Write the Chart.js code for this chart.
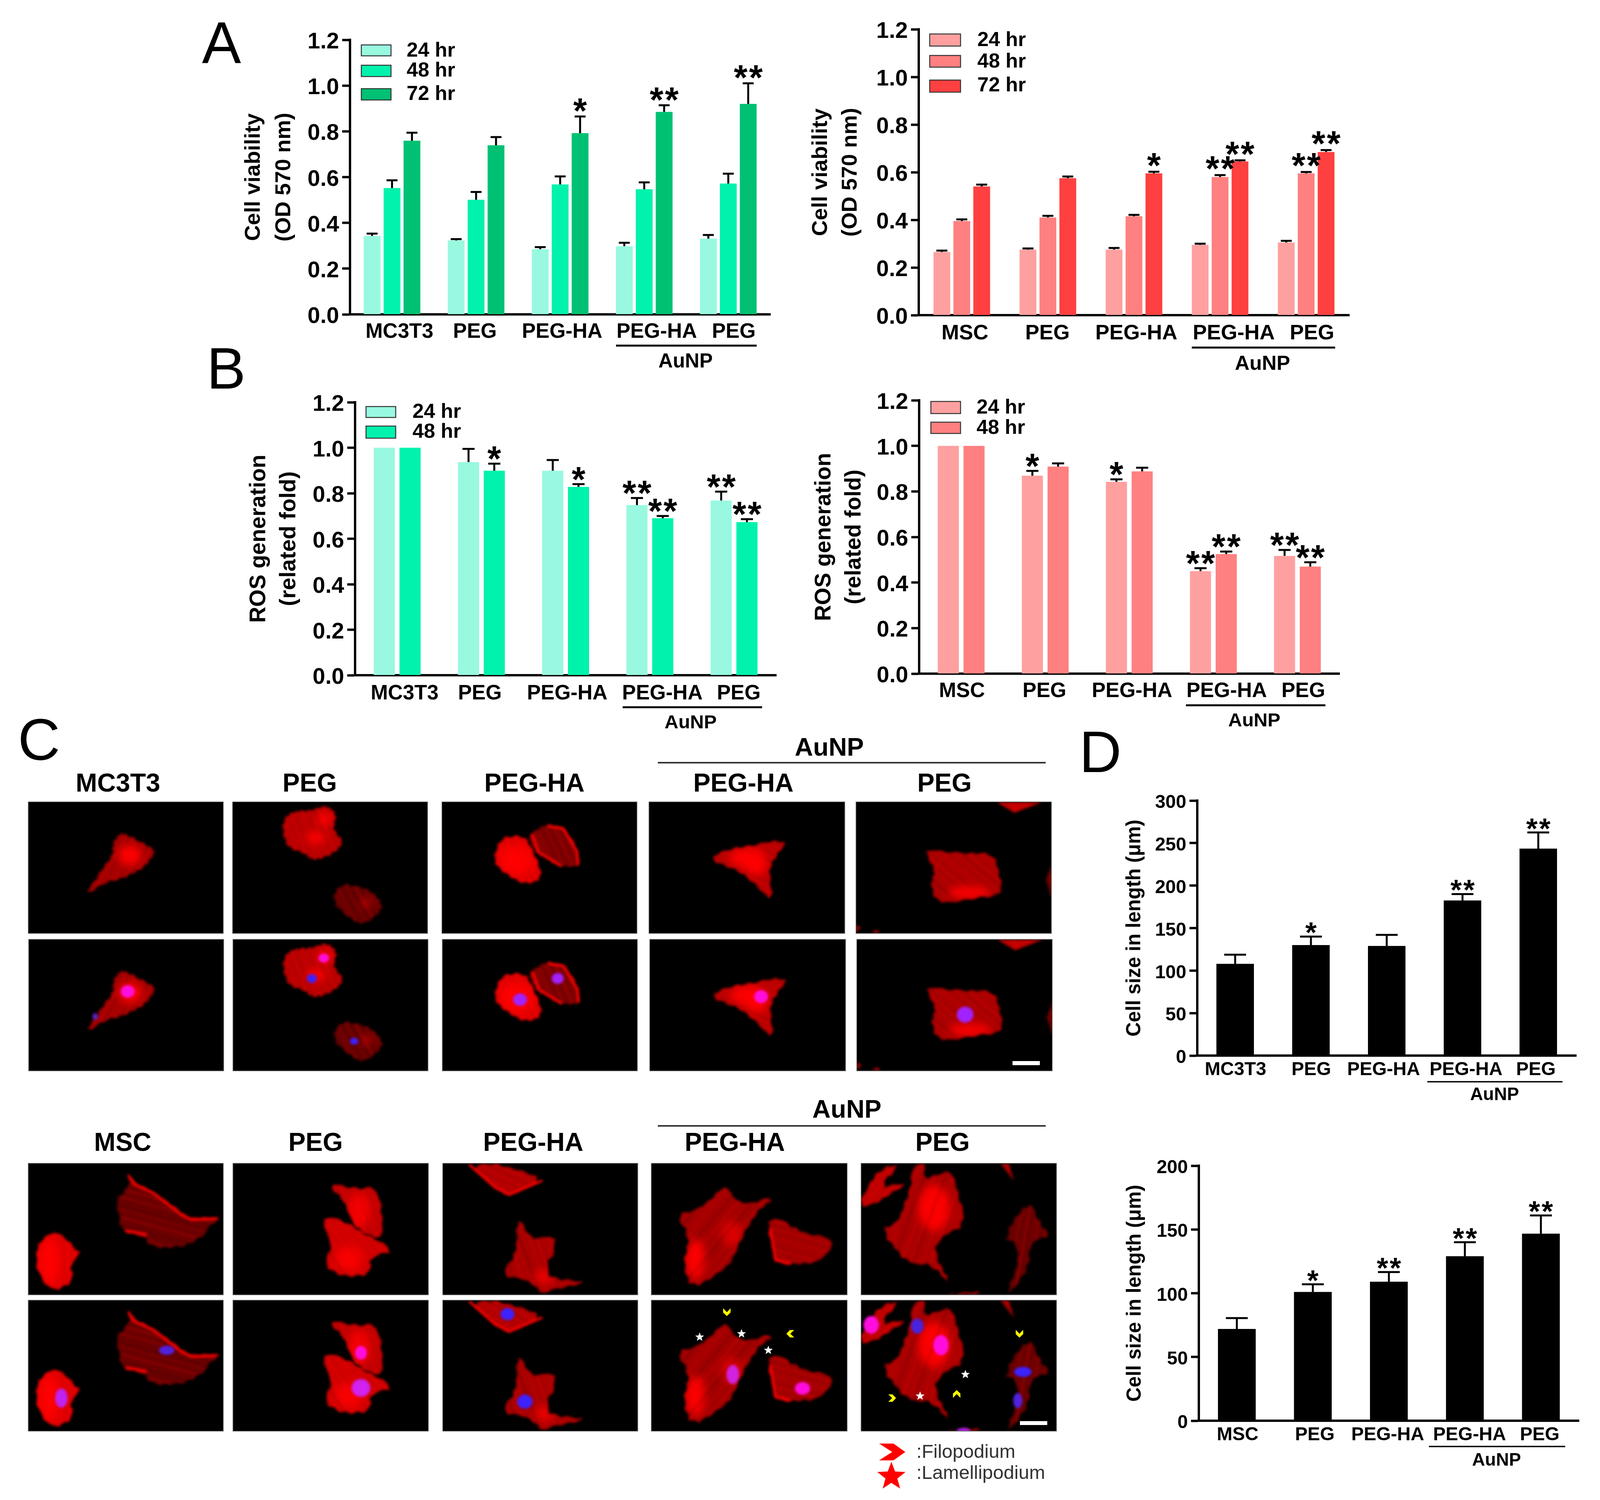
<!DOCTYPE html>
<html><head><meta charset="utf-8">
<style>
html,body{margin:0;padding:0;background:#fff;width:4097px;height:3841px;overflow:hidden}
canvas{position:absolute;display:block}
svg{position:absolute;left:0;top:0}
</style>
<script src="https://cdn.jsdelivr.net/npm/chart.js@4/dist/chart.umd.min.js"></script>
</head><body>
<svg id="ov" width="4097" height="3841" xmlns="http://www.w3.org/2000/svg"></svg>
<script>
const FONT='"Liberation Sans", Arial, sans-serif';
const mc3t3Labels=['MC3T3','PEG','PEG-HA','PEG-HA','PEG'];
const mscLabels=['MSC','PEG','PEG-HA','PEG-HA','PEG'];
const greens=['#98f9e0','#00f2ac','#00c173'];
const reds=['#ffa0a0','#ff8080','#ff4040'];

const viabMc24=[.343,.323,.285,.298,.331], viabMc24Err=[.010,.006,.009,.015,.016];
const viabMc48=[.552,.501,.568,.547,.572], viabMc48Err=[.034,.034,.035,.030,.043];
const viabMc72=[.759,.739,.792,.885,.920], viabMc72Err=[.035,.036,.073,.029,.090];
const viabMc72Stars=['','','*','**','**'];

const viabMs24=[.265,.275,.275,.295,.305], viabMs24Err=[.006,.005,.007,.005,.007];
const viabMs48=[.395,.410,.415,.580,.595], viabMs48Err=[.007,.007,.006,.008,.006];
const viabMs72=[.540,.575,.595,.645,.685], viabMs72Err=[.008,.007,.007,.005,.008];
const viabMs48Stars=['','','','**','**'], viabMs72Stars=['','','*','**','**'];

const rosMc24=[1,.937,.899,.748,.768], rosMc24Err=[0,.058,.047,.031,.039];
const rosMc48=[1,.899,.828,.690,.673], rosMc48Err=[0,.031,.012,.010,.013];
const rosMc24Stars=['','','','**','**'], rosMc48Stars=['','*','*','**','**'];

const rosMs24=[1,.869,.842,.450,.517], rosMs24Err=[0,.021,.011,.013,.026];
const rosMs48=[1,.909,.888,.525,.470], rosMs48Err=[0,.014,.016,.011,.019];
const rosMs24Stars=['','*','*','**','**'], rosMs48Stars=['','','','**','**'];

const sizeMc=[108,130,129,182.5,243.5], sizeMcErr=[10.7,10,13,7.5,19], sizeMcStars=['','*','','**','**'];
const sizeMs=[72,101,109,129,146.7], sizeMsErr=[8.5,6,7.6,11,14.3], sizeMsStars=['','*','**','**','**'];

const errorBars={id:'errorBars',afterDatasetsDraw(chart){
  const ctx=chart.ctx, y=chart.scales.y, o=chart.options.plugins.errorBars;
  chart.data.datasets.forEach((ds,i)=>{
    chart.getDatasetMeta(i).data.forEach((el,j)=>{
      const v=ds.data[j], e=(ds.err||[])[j]||0, top=y.getPixelForValue(v+e);
      ctx.save();ctx.strokeStyle='#000';ctx.fillStyle='#000';
      if(e>0){
        ctx.lineWidth=5;ctx.beginPath();ctx.moveTo(el.x,y.getPixelForValue(v));ctx.lineTo(el.x,top);ctx.stroke();
        ctx.fillRect(el.x-o.cap/2,top-2.5,o.cap,5);
      }
      const s=(ds.stars||[])[j];
      if(s){
        ctx.font='bold '+o.star+'px '+FONT;ctx.textAlign='center';ctx.textBaseline='alphabetic';
        const base=top-o.gap-ctx.measureText('*').actualBoundingBoxDescent;
        [...s].forEach((ch,k)=>ctx.fillText(ch,el.x+(k-(s.length-1)/2)*o.adv,base));
      }
      ctx.restore();
    });
  });
}};
const labelShift={id:'labelShift',beforeDraw(chart){
  const sh=chart.options.plugins.labelShift.by;
  chart.scales.x.getLabelItems(chart.chartArea).forEach((it,i)=>{
    if(!it.__moved){it.options.translation[0]+=sh[i];it.__moved=true;}
  });
  chart.scales.y.getLabelItems(chart.chartArea).forEach(it=>{
    if(!it.__moved){it.options.translation[1]+=6;it.__moved=true;}
  });
}};

function bars(c){
  const W=340,T=60,B=150,R=40,pw=c.right-c.left,ph=c.bottom-c.top;
  const cv=document.createElement('canvas');
  cv.width=W+pw+R;cv.height=T+ph+B;
  cv.style.left=(c.left-W)+'px';cv.style.top=(c.top-T)+'px';
  cv.style.width=cv.width+'px';cv.style.height=cv.height+'px';
  document.body.insertBefore(cv,document.getElementById('ov'));
  new Chart(cv.getContext('2d'),{type:'bar',
    data:{labels:c.labels,datasets:c.sets.map(s=>({label:s.label,data:s.data,err:s.err,stars:s.stars,
      backgroundColor:s.color,borderWidth:0,barPercentage:c.barPct,categoryPercentage:c.catPct}))},
    plugins:[errorBars,labelShift],
    options:{responsive:false,animation:false,devicePixelRatio:1,
      layout:{padding:{top:T,right:R,left:0,bottom:0}},
      plugins:{legend:{display:false},tooltip:{enabled:false},
        errorBars:{cap:c.cap,star:c.star,gap:c.gap,adv:c.adv},labelShift:{by:c.shift}},
      scales:{
        x:{offset:true,afterFit:s=>{s.height=B},
          grid:{display:false,drawTicks:false},
          border:{display:true,color:'#000',width:6},
          ticks:{autoSkip:false,maxRotation:0,minRotation:0,color:'#000',padding:c.xPad,
            font:{family:FONT,weight:'bold',size:c.xSize}}},
        y:{min:0,max:c.max,afterFit:s=>{s.width=W},
          grid:{display:true,drawOnChartArea:false,drawTicks:true,tickLength:20,tickWidth:6,tickColor:'#000'},
          border:{display:true,color:'#000',width:6},
          ticks:{stepSize:c.step,color:'#000',padding:8,font:{family:FONT,weight:'bold',size:c.ySize},
            callback:v=>c.step<1?Number(v).toFixed(1):String(v)},
          title:{display:true,text:c.title,color:'#000',align:'center',
            padding:{top:c.titleX-c.left+W-c.titleLine/2,bottom:0},
            font:{family:FONT,weight:'bold',size:c.titleSize,lineHeight:c.titleLine/c.titleSize}}}
      }}});
}
const ser=(label,data,err,color,stars)=>({label,data,err,color,stars});
bars({left:896,right:1972,top:102,bottom:805,labels:mc3t3Labels,max:1.2,step:.2,
  sets:[ser('24 hr',viabMc24,viabMc24Err,greens[0]),ser('48 hr',viabMc48,viabMc48Err,greens[1]),ser('72 hr',viabMc72,viabMc72Err,greens[2],viabMc72Stars)],
  catPct:.711,barPct:.843,cap:28,star:90,adv:39,gap:12,shift:[19,-3,5,32,14],xPad:14,xSize:53,ySize:58,
  title:['Cell viability','(OD 570 nm)'],titleSize:56,titleLine:78,titleX:650});
bars({left:2352,right:3454,top:75,bottom:807,labels:mscLabels,max:1.2,step:.2,
  sets:[ser('24 hr',viabMs24,viabMs24Err,reds[0]),ser('48 hr',viabMs48,viabMs48Err,reds[1],viabMs48Stars),ser('72 hr',viabMs72,viabMs72Err,reds[2],viabMs72Stars)],
  catPct:.694,barPct:.843,cap:28,star:90,adv:39,gap:14,shift:[8,-1,6,35,15],xPad:15,xSize:54,ySize:58,
  title:['Cell viability','(OD 570 nm)'],titleSize:56,titleLine:76,titleX:2102});
bars({left:909,right:1987,top:1030,bottom:1729.5,labels:mc3t3Labels,max:1.2,step:.2,
  sets:[ser('24 hr',rosMc24,rosMc24Err,greens[0],rosMc24Stars),ser('48 hr',rosMc48,rosMc48Err,greens[1],rosMc48Stars)],
  catPct:.612,barPct:.82,cap:31,star:90,adv:39,gap:10,shift:[19,-4,4,32,12],xPad:16,xSize:53,ySize:58,
  title:['ROS generation','(related fold)'],titleSize:57,titleLine:77,titleX:663});
bars({left:2352.5,right:3429,top:1025,bottom:1725,labels:mscLabels,max:1.2,step:.2,
  sets:[ser('24 hr',rosMs24,rosMs24Err,reds[0],rosMs24Stars),ser('48 hr',rosMs48,rosMs48Err,reds[1],rosMs48Stars)],
  catPct:.612,barPct:.82,cap:31,star:90,adv:39,gap:10,shift:[2,-2,7,34,15],xPad:14,xSize:53,ySize:58,
  title:['ROS generation','(related fold)'],titleSize:57,titleLine:77,titleX:2110});
bars({left:3065,right:4035,top:2050,bottom:2703,labels:mc3t3Labels,max:300,step:50,
  sets:[ser('Cell size',sizeMc,sizeMcErr,'#000',sizeMcStars)],
  catPct:1,barPct:.495,cap:56,star:75,adv:33,gap:8,shift:[1,1,-8,9,-6],xPad:8,xSize:48,ySize:48,
  title:'Cell size in length (\u03bcm)',titleSize:51,titleLine:60,titleX:2905});
bars({left:3069,right:4042,top:2985,bottom:3638,labels:mscLabels,max:200,step:50,
  sets:[ser('Cell size',sizeMs,sizeMsErr,'#000',sizeMsStars)],
  catPct:1,barPct:.497,cap:56,star:75,adv:33,gap:8,shift:[2,5,-3,12,-3],xPad:8,xSize:48,ySize:48,
  title:'Cell size in length (\u03bcm)',titleSize:51,titleLine:60,titleX:2906});

/* ---------- overlay: legends, captions, microscopy panels ---------- */
const NS='http://www.w3.org/2000/svg', ov=document.getElementById('ov');
function el(n,a,p){const e=document.createElementNS(NS,n);for(const k in a)e.setAttribute(k,a[k]);(p||ov).appendChild(e);return e;}
function text(s,x,y,size,weight,anchor,fill){const t=el('text',{x,y,'font-family':FONT,'font-size':size,'font-weight':weight||'bold','text-anchor':anchor||'middle',fill:fill||'#000'});t.textContent=s;return t;}
function line(x1,x2,y,w,c){el('rect',{x:x1,y:y-w/2,width:x2-x1,height:w,fill:c||'#000'});}
function legend(x1,x2,tx,rows,size){rows.forEach(r=>{
  el('rect',{x:x1,y:r[0],width:x2-x1,height:r[1]-r[0],fill:r[2],stroke:'#333','stroke-width':2.5});
  text(r[4],tx,r[3],size,'bold','start');});}

legend(925,1001,1041,[[115,143,greens[0],145,'24 hr'],[167,196,greens[1],196,'48 hr'],[227,256,greens[2],256,'72 hr']],52);
legend(2380,2459,2502,[[87,118,reds[0],118,'24 hr'],[142,172,reds[1],173,'48 hr'],[205,236,reds[2],234,'72 hr']],52);
legend(937,1013,1056,[[1041,1069,greens[0],1070,'24 hr'],[1091,1122,greens[1],1121,'48 hr']],52);
legend(2383,2459,2500,[[1028,1059,reds[0],1059,'24 hr'],[1081,1110,reds[1],1111,'48 hr']],52);

[[1577,1937,885,1755,941,51,5],[3051,3418,890,3232,947,52,5],[1594,1951,1811,1768,1865,49,5],
 [3036,3393,1806,3211,1860,49,5],[3654,4000,2770,3826,2817,46,3.5],[3658,4007,3704,3831,3753,46,3.5]]
 .forEach(a=>{line(a[0],a[1],a[2],a[6]);text('AuNP',a[3],a[4],a[5]);});

text('A',567,161,150,'normal');text('B',579,995,150,'normal');text('C',100,1946,150,'normal');text('D',2817,1977,150,'normal');

[['MC3T3',302,2027],['PEG',793,2027],['PEG-HA',1368,2027],['PEG-HA',1903,2027],['PEG',2418,2027],
 ['MSC',314,2947],['PEG',808,2947],['PEG-HA',1365,2947],['PEG-HA',1881,2947],['PEG',2413,2947]]
 .forEach(a=>text(a[0],a[1],a[2],66));
text('AuNP',2123,1935,65);line(1684,2677,1953,4,'#333');
text('AuNP',2168,2862,65);line(1684,2677,2883,4,'#333');

const defs=el('defs',{});
const f1=el('filter',{id:'soft',x:'-20%',y:'-20%',width:'140%',height:'140%'},defs);el('feGaussianBlur',{stdDeviation:3},f1);
const f2=el('filter',{id:'glow',x:'-60%',y:'-60%',width:'220%',height:'220%'},defs);el('feGaussianBlur',{stdDeviation:10},f2);
const f3=el('filter',{id:'nuc',x:'-30%',y:'-30%',width:'160%',height:'160%'},defs);el('feGaussianBlur',{stdDeviation:3},f3);
let uid=0;
function chaikin(Q,n){let q=Q;for(let k=0;k<n;k++){const r=[];q.forEach((a,i)=>{const b=q[(i+1)%q.length];
  r.push([a[0]*.75+b[0]*.25,a[1]*.75+b[1]*.25],[a[0]*.25+b[0]*.75,a[1]*.25+b[1]*.75]);});q=r;}return q;}
function fringe(Q,amp){const r=[];let m=0;const fr=[1,-.6,.4,-1,.7,-.3];Q.forEach((a,i)=>{const b=Q[(i+1)%Q.length],d=Math.hypot(b[0]-a[0],b[1]-a[1]),n=Math.max(1,Math.round(d/16));
  for(let k=0;k<n;k++){const t=k/n,nx=-(b[1]-a[1])/(d||1),ny=(b[0]-a[0])/(d||1),f=fr[m++%fr.length]*amp;r.push([a[0]+(b[0]-a[0])*t+nx*f,a[1]+(b[1]-a[1])*t+ny*f]);}});return r;}
function drawCell(g,c,zx,zy,bx,by,smooth){
  const raw=[];for(let i=0;i<c.p.length;i+=2)raw.push([bx+c.p[i]/zx,by+c.p[i+1]/zy]);
  const Q=raw.length>3?fringe(chaikin(raw,smooth),3.5):raw, pts=Q.map(a=>a[0].toFixed(1)+','+a[1].toFixed(1)).join(' ');
  const id='cc'+(uid++), cp=el('clipPath',{id},defs);el('polygon',{points:pts},cp);
  const soft=el('g',{filter:'url(#soft)'},g), inner=el('g',{'clip-path':'url(#'+id+')'},soft);
  el('polygon',{points:pts,fill:c.c},inner);
  (c.core||[]).forEach(k=>el('ellipse',{cx:bx+k[0]/zx,cy:by+k[1]/zy,rx:k[2]/zx,ry:k[3]/zy,fill:'#ff0000',opacity:k[4]||.95,filter:'url(#glow)'},inner));
  const xs=Q.map(a=>a[0]),ys=Q.map(a=>a[1]);
  const x0=Math.min(...xs),x1=Math.max(...xs),y0=Math.min(...ys),y1=Math.max(...ys);
  const cx=(x0+x1)/2,cy=(y0+y1)/2,L=Math.hypot(x1-x0,y1-y0)/2+10,a=(c.a||45)*Math.PI/180;
  const op=[.38,.1,.22,.06,.3,.14,.08],wd=[3,2,4,2,3,5,2],gap=[7,11,9,13,8,10,12],dx=Math.cos(a),dy=Math.sin(a);
  let d=-L;for(let i=0;d<L;i++){
    d+=gap[i%7];const ox=cx-dy*d,oy=cy+dx*d;
    el('line',{x1:ox-dx*L,y1:oy-dy*L,x2:ox+dx*L,y2:oy+dy*L,stroke:(i%5===3)?'#300000':'#ff2020','stroke-width':wd[i%7],opacity:op[i%7]},inner);
  }
  (c.edge||[]).forEach(e=>{const q=[];for(let i=0;i<e.length;i+=2)q.push((bx+e[i]/zx).toFixed(1)+','+(by+e[i+1]/zy).toFixed(1));
    el('polyline',{points:q.join(' '),fill:'none',stroke:'#ff0000','stroke-width':6,'stroke-linejoin':'round'},soft);});
}
function star(g,cx,cy,r,fill){const p=[];for(let i=0;i<10;i++){const a=-Math.PI/2+i*Math.PI/5,R=i%2?r*.42:r;p.push((cx+R*Math.cos(a)).toFixed(1)+','+(cy+R*Math.sin(a)).toFixed(1));}el('polygon',{points:p.join(' '),fill},g);}
function chev(g,cx,cy,w,h,rot,fill){el('polygon',{points:[[-w/2,-h/2],[w*.05,-h/2],[w/2,0],[w*.05,h/2],[-w/2,h/2],[0,0]].map(a=>a.join(',')).join(' '),fill,transform:`translate(${cx},${cy}) rotate(${rot})`},g);}

function panelPair(o){
  [0,1].forEach(r=>{
    const R=o.rect[r];
    el('rect',{x:R[0]-1,y:R[1]-1,width:R[2]+2,height:R[3]+2,fill:'#000',stroke:'#999','stroke-width':1.5});
    const id='pc'+(uid++),cp=el('clipPath',{id},defs);el('rect',{x:R[0],y:R[1],width:R[2],height:R[3]},cp);
    const g=el('g',{'clip-path':'url(#'+id+')'});
    const ddx=R[0]-o.rect[0][0],ddy=R[1]-o.rect[0][1];
    const t=el('g',{transform:`translate(${ddx},${ddy})`},g);
    o.cells.forEach(c=>drawCell(t,c,o.zx,o.zy,o.bx,o.by,o.smooth));
    if(r===1){
      (o.nuc||[]).forEach(n=>el('ellipse',{cx:o.bx+n[0]/o.zx,cy:o.by+n[1]/o.zy,rx:n[2]/o.zx,ry:n[3]/o.zy,fill:n[4],filter:'url(#nuc)'},t));
      (o.stars||[]).forEach(s=>star(t,o.bx+s[0]/o.zx,o.by+s[1]/o.zy,12,'#fff'));
      (o.chev||[]).forEach(s=>chev(t,o.bx+s[0]/o.zx,o.by+s[1]/o.zy,20,19,s[2],'#ffff00'));
    }
  });
}
const MAG='#ff10e0',VIO='#a020ff',BLU='#3a20ff';
const T1=[2054,335.5],T2=[2406,335.5],S1=[2979.5,335.5],S2=[3330,334];
const upper={zx:1.12,zy:1.568,by:1820,smooth:2};
panelPair({...upper,bx:0,rect:[[73,T1[0],498,T1[1]],[74,T2[0],498,T2[1]]],
  cells:[{p:[345,485,370,505,435,545,445,580,410,630,370,665,310,685,240,745,280,660,320,590,325,530],c:'#a00000',a:120,core:[[372,580,34,42]]}],
  nuc:[[365,575,20,25,MAG],[272,676,8,14,'#6020c0']]});
panelPair({...upper,bx:0,rect:[[596,T1[0],498,T1[1]],[597,T2[0],498,T2[1]]],
  cells:[{p:[830,405,860,405,900,395,945,380,965,420,955,480,990,535,950,575,905,605,875,575,825,550,805,470],c:'#b80000',a:70,core:[[930,435,22,28],[905,510,28,25]]},
         {p:[985,690,1050,715,1090,750,1095,810,1040,860,1000,835,945,750],c:'#600000',a:60,core:[[1050,770,14,18,.6]]}],
  nuc:[[927,441,15,18,MAG],[893,523,14,18,BLU],[1014,775,12,14,BLU]]});
panelPair({...upper,bx:0,rect:[[1132,T1[0],498,T1[1]],[1133,T2[0],498,T2[1]]],
  cells:[{p:[1440,505,1505,500,1540,590,1555,685,1500,695,1445,655,1410,590],c:'#e00000',a:60,core:[[1480,600,50,60]]},
         {p:[1525,485,1568,455,1618,465,1658,560,1663,625,1613,630,1568,595,1540,575,1515,520],c:'#780000',a:65,
          edge:[[1570,462,1615,472,1655,565,1658,620],[1525,495,1545,570,1610,625]]}],
  nuc:[[1490,608,20,25,VIO],[1598,523,17,22,VIO]]});
panelPair({...upper,bx:1400,rect:[[1662,T1[0],500,T1[1]],[1664,T2[0],500,T2[1]]],
  cells:[{p:[458,590,530,552,702,512,655,580,637,650,648,780,590,680,530,632],c:'#b80000',a:25,core:[[575,590,50,40],[600,620,30,40]]}],
  nuc:[[612,596,20,26,MAG]]});
panelPair({...upper,bx:1400,rect:[[2192,T1[0],499,T1[1]],[2194,T2[0],499,T2[1]]],
  cells:[{p:[1075,545,1160,575,1275,565,1300,650,1305,745,1210,755,1115,780,1100,680,1115,640],c:'#a80000',a:40,core:[[1210,730,60,25]]},
         {p:[1290,367,1420,367,1340,410],c:'#c00000'},{p:[1450,610,1430,680,1450,760],c:'#600000'},
         {p:[887,860,900,870,887,890],c:'#b00000'},{p:[930,893,945,878,955,893],c:'#b00000'}],
  nuc:[[1197,668,24,32,VIO]]});

const lower={zx:1.12,zy:1.536,by:2820,smooth:1};
panelPair({...lower,bx:0,rect:[[73,S1[0],498,S1[1]],[73,S2[0],498,S2[1]]],
  cells:[{p:[150,505,185,535,208,570,235,600,200,640,212,712,155,748,120,700,100,640,110,560],c:'#e00000',a:85,core:[[140,630,30,90]]},
         {p:[362,270,385,320,440,355,525,440,548,460,640,455,590,500,595,520,540,565,470,580,430,565,415,535,350,515,340,440,330,390,372,340],c:'#680000',a:15,
          edge:[[368,290,385,325,440,360,520,445,550,465,625,460],[360,510,420,525]]}],
  nuc:[[176,629,18,38,'#c020f0'],[478,441,22,18,'#5020e0']]});
panelPair({...lower,bx:0,rect:[[597,S1[0],499,S1[1]],[597,S2[0],499,S2[1]]],
  cells:[{p:[935,315,1020,348,1082,330,1105,535,1050,530,1010,480,995,410],c:'#c00000',a:75,core:[[1030,430,30,70,.8]]},
         {p:[930,440,1010,490,1060,530,1135,592,1060,610,1062,685,990,690,925,650,955,560,930,510],c:'#d00000',a:55,core:[[1000,620,40,50,.8]]}],
  nuc:[[1035,451,17,27,MAG],[1035,589,27,35,'#d020f0']]});
panelPair({...lower,bx:0,rect:[[1134,S1[0],498,S1[1]],[1134,S2[0],498,S2[1]]],
  cells:[{p:[1345,245,1450,250,1565,310,1460,372,1420,340],c:'#b00000',a:25,edge:[[1345,248,1420,340,1460,368,1555,312]]},
         {p:[1485,445,1515,530,1538,540,1590,525,1590,590,1568,640,1578,700,1700,710,1578,740,1560,765,1520,705,1435,688,1480,600],c:'#a80000',a:70,core:[[1560,690,30,30,.7]]}],
  nuc:[[1455,299,20,24,BLU],[1505,643,22,28,BLU]]});
panelPair({...lower,bx:1400,rect:[[1668,S1[0],500,S1[1]],[1668,S2[0],500,S2[1]]],
  cells:[{p:[510,322,530,370,560,408,662,370,590,450,540,600,510,665,412,740,392,650,408,520,368,445,450,418],c:'#a00000',a:130,core:[[425,620,28,80],[530,520,30,50,.6]]},
         {p:[662,448,712,508,830,543,792,628,700,645,655,632,630,488],c:'#a00000',a:15,edge:[[640,500,655,625,700,640]]}],
  nuc:[[533,536,18,38,'#d020e0'],[733,591,22,25,MAG]],
  stars:[[438,389],[558,376],[635,441]],chev:[[516,291,90],[698,376,180]]});
panelPair({...lower,bx:1400,rect:[[2205,S1[0],499,S1[1]],[2205,S2[0],499,S2[1]]],
  cells:[{p:[902,370,960,260,1015,245,950,340,1030,320,1025,335,902,430],c:'#c00000',a:125},
         {p:[1050,245,1090,245,1075,310,1140,275,1165,285,1205,490,1130,530,1110,590,1165,750,1110,640,1040,645,955,510,1010,470,1040,350],c:'#a80000',a:110,core:[[1110,420,45,90]]},
         {p:[1385,380,1410,480,1450,530,1390,545,1380,650,1340,740,1318,765,1350,640,1350,560,1305,540],c:'#680000',a:100},
         {p:[1155,755,1240,750,1270,760,1150,760],c:'#a00000'},{p:[1300,245,1325,245,1340,315],c:'#a00000'}],
  nuc:[[930,341,22,35,MAG],[1062,346,18,30,'#4a20e0'],[1130,421,22,40,MAG],[1365,526,25,20,BLU],[1350,639,13,30,'#5020e0'],[1195,758,20,12,'#a020e0']],
  stars:[[1200,536],[1070,621]],chev:[[1355,376,90],[990,629,0],[1175,613,-90]]});

el('rect',{x:2592,y:2717,width:70,height:10.5,fill:'#fff'});
el('rect',{x:2611,y:3639,width:70,height:10,fill:'#fff'});
chev(ov,2284,3718,67,43,0,'#ff0000');
star(ov,2282,3781,38,'#ff0000');
text(':Filopodium',2346,3733,49,'normal','start','#333');
text(':Lamellipodium',2346,3787,49,'normal','start','#333');
</script>
</body></html>
